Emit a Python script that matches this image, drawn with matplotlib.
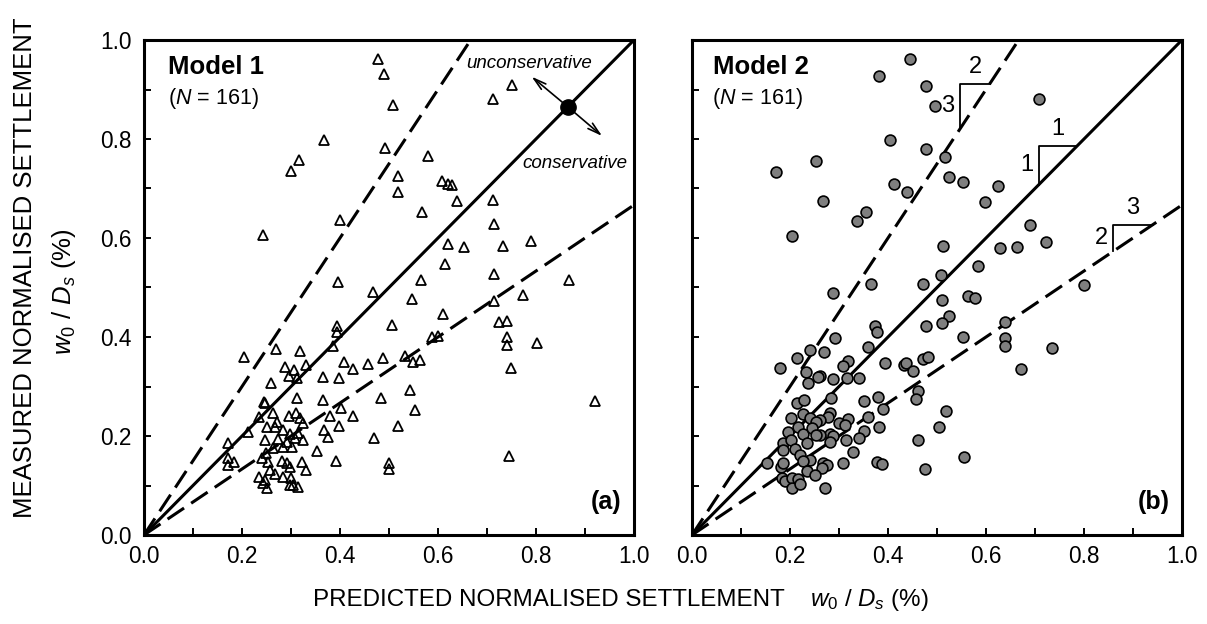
import matplotlib
matplotlib.use("Agg")
import matplotlib.pyplot as plt
from matplotlib.ticker import MultipleLocator

plt.rcParams['font.family'] = ['Liberation Sans', 'DejaVu Sans']
plt.rcParams['mathtext.fontset'] = 'custom'
plt.rcParams['mathtext.rm'] = 'Liberation Sans'
plt.rcParams['mathtext.it'] = 'Liberation Sans:italic'
plt.rcParams['mathtext.bf'] = 'Liberation Sans:bold'

# Model 1: predicted vs measured normalised settlement w0/Ds (%)
pred_m1 = [0.367, 0.317, 0.299, 0.399, 0.242, 0.395, 0.478, 0.490, 0.509, 0.752,
           0.713, 0.492, 0.579, 0.519, 0.518, 0.609, 0.621, 0.628, 0.639, 0.567,
           0.713, 0.714, 0.621, 0.654, 0.732, 0.790, 0.614, 0.715, 0.565, 0.867,
           0.467, 0.546, 0.773, 0.715, 0.611, 0.507, 0.724, 0.740, 0.740, 0.740,
           0.803, 0.587, 0.601, 0.427, 0.458, 0.488, 0.533, 0.548, 0.563, 0.749,
           0.543, 0.484, 0.426, 0.553, 0.519, 0.469, 0.500, 0.500, 0.744, 0.920,
           0.205, 0.393, 0.393, 0.385, 0.269, 0.318, 0.408, 0.288, 0.307, 0.330,
           0.295, 0.313, 0.365, 0.397, 0.260, 0.313, 0.365, 0.244, 0.247, 0.264,
           0.235, 0.295, 0.310, 0.318, 0.380, 0.402, 0.272, 0.325, 0.250, 0.267,
           0.284, 0.213, 0.298, 0.315, 0.308, 0.368, 0.397, 0.375, 0.247, 0.273,
           0.291, 0.324, 0.171, 0.264, 0.284, 0.303, 0.354, 0.248, 0.171, 0.184,
           0.172, 0.241, 0.254, 0.281, 0.291, 0.298, 0.322, 0.330, 0.392, 0.257,
           0.267, 0.235, 0.247, 0.283, 0.301, 0.305, 0.315, 0.242, 0.250, 0.298]
meas_m1 = [0.798, 0.758, 0.735, 0.636, 0.607, 0.512, 0.962, 0.931, 0.869, 0.909,
           0.881, 0.782, 0.766, 0.725, 0.693, 0.715, 0.710, 0.707, 0.675, 0.653,
           0.677, 0.628, 0.587, 0.581, 0.584, 0.594, 0.547, 0.528, 0.515, 0.515,
           0.490, 0.476, 0.485, 0.473, 0.446, 0.424, 0.430, 0.432, 0.399, 0.384,
           0.387, 0.399, 0.402, 0.335, 0.345, 0.357, 0.362, 0.350, 0.354, 0.338,
           0.293, 0.276, 0.241, 0.253, 0.221, 0.195, 0.145, 0.133, 0.160, 0.270,
           0.359, 0.423, 0.411, 0.382, 0.375, 0.372, 0.350, 0.340, 0.333, 0.343,
           0.321, 0.318, 0.320, 0.318, 0.308, 0.277, 0.273, 0.269, 0.266, 0.246,
           0.239, 0.240, 0.247, 0.237, 0.241, 0.257, 0.229, 0.226, 0.219, 0.219,
           0.212, 0.209, 0.205, 0.207, 0.195, 0.212, 0.220, 0.197, 0.192, 0.194,
           0.188, 0.192, 0.185, 0.175, 0.178, 0.178, 0.170, 0.165, 0.155, 0.148,
           0.141, 0.155, 0.148, 0.149, 0.145, 0.137, 0.148, 0.131, 0.150, 0.131,
           0.123, 0.117, 0.112, 0.118, 0.115, 0.101, 0.096, 0.106, 0.094, 0.101]

# Model 2: predicted vs measured normalised settlement w0/Ds (%)
pred_m2 = [0.171, 0.254, 0.268, 0.205, 0.445, 0.382, 0.478, 0.495, 0.709, 0.405,
           0.477, 0.516, 0.525, 0.554, 0.624, 0.412, 0.438, 0.598, 0.355, 0.337,
           0.690, 0.513, 0.629, 0.663, 0.722, 0.584, 0.508, 0.365, 0.472, 0.287,
           0.510, 0.563, 0.578, 0.524, 0.511, 0.639, 0.373, 0.378, 0.477, 0.554,
           0.639, 0.639, 0.735, 0.292, 0.359, 0.269, 0.671, 0.319, 0.309, 0.393,
           0.433, 0.436, 0.452, 0.472, 0.482, 0.261, 0.288, 0.317, 0.341, 0.283,
           0.352, 0.380, 0.390, 0.461, 0.457, 0.282, 0.278, 0.318, 0.360, 0.261,
           0.301, 0.312, 0.518, 0.381, 0.504, 0.350, 0.282, 0.288, 0.282, 0.261,
           0.341, 0.314, 0.462, 0.329, 0.268, 0.275, 0.265, 0.308, 0.377, 0.387,
           0.556, 0.476, 0.271, 0.180, 0.215, 0.241, 0.233, 0.236, 0.257, 0.214,
           0.229, 0.203, 0.227, 0.241, 0.254, 0.195, 0.217, 0.226, 0.244, 0.254,
           0.185, 0.203, 0.234, 0.210, 0.220, 0.186, 0.241, 0.226, 0.154, 0.182,
           0.186, 0.234, 0.251, 0.183, 0.190, 0.205, 0.217, 0.205, 0.220, 0.800]
meas_m2 = [0.734, 0.756, 0.675, 0.605, 0.961, 0.928, 0.908, 0.867, 0.880, 0.797,
           0.780, 0.763, 0.723, 0.713, 0.705, 0.709, 0.692, 0.673, 0.652, 0.634,
           0.626, 0.584, 0.579, 0.582, 0.591, 0.544, 0.525, 0.508, 0.508, 0.488,
           0.475, 0.483, 0.478, 0.443, 0.428, 0.431, 0.422, 0.410, 0.422, 0.401,
           0.397, 0.382, 0.378, 0.397, 0.380, 0.370, 0.335, 0.352, 0.342, 0.348,
           0.343, 0.348, 0.332, 0.355, 0.359, 0.321, 0.315, 0.318, 0.317, 0.276,
           0.271, 0.278, 0.255, 0.291, 0.274, 0.246, 0.238, 0.234, 0.239, 0.232,
           0.227, 0.222, 0.251, 0.218, 0.219, 0.211, 0.205, 0.199, 0.188, 0.202,
           0.195, 0.191, 0.192, 0.168, 0.146, 0.141, 0.135, 0.146, 0.148, 0.143,
           0.157, 0.133, 0.094, 0.338, 0.358, 0.374, 0.329, 0.308, 0.320, 0.266,
           0.273, 0.237, 0.244, 0.237, 0.229, 0.209, 0.219, 0.205, 0.216, 0.202,
           0.186, 0.191, 0.185, 0.174, 0.162, 0.172, 0.152, 0.150, 0.146, 0.138,
           0.145, 0.129, 0.121, 0.115, 0.110, 0.115, 0.113, 0.094, 0.104, 0.505]

# Reference lines through the origin: measured = slope * predicted
guide_slopes = [1.0, 1.5, 2.0 / 3.0]
guide_styles = ['solid', 'dashed', 'dashed']

tick_values = [0.0, 0.2, 0.4, 0.6, 0.8, 1.0]
tick_labels = ['0.0', '0.2', '0.4', '0.6', '0.8', '1.0']

panel_titles = ['Model 1', 'Model 2']
panel_tags = ['(a)', '(b)']
sample_note = r'($\it{N}$ = 161)'

W, H = 1207, 624
fig = plt.figure(figsize=(W / 100, H / 100), dpi=100)
ax1 = fig.add_axes([144 / W, 1 - 535 / H, 490 / W, 495 / H])
ax2 = fig.add_axes([692 / W, 1 - 535 / H, 490 / W, 495 / H])

LW = 2.2
for ax in (ax1, ax2):
    ax.set_xlim(0, 1)
    ax.set_ylim(0, 1)
    for sp in ax.spines.values():
        sp.set_linewidth(LW)
    ax.set_xticks(tick_values)
    ax.set_xticklabels(tick_labels)
    ax.set_yticks(tick_values)
    ax.set_yticklabels(tick_labels)
    ax.xaxis.set_minor_locator(MultipleLocator(0.1))
    ax.yaxis.set_minor_locator(MultipleLocator(0.1))
    ax.tick_params(which='both', direction='in', length=5, width=1.4,
                   top=False, right=False, labelsize=16.3)
    ax.tick_params(axis='x', which='major', pad=7)
    ax.tick_params(axis='y', which='major', pad=9)
    for s, ls in zip(guide_slopes, guide_styles):
        xe = min(1.0, 1.0 / s)
        line, = ax.plot([0, xe], [0, s * xe], color='black', lw=2.2,
                        solid_capstyle='butt', zorder=3)
        if ls == 'dashed':
            line.set_dashes([6.5, 2.8])

ax2.tick_params(axis='y', labelleft=False)

# Data points
ax1.plot(pred_m1, meas_m1, linestyle='none', marker='^', markersize=7.8,
         markerfacecolor='none', markeredgecolor='black', markeredgewidth=1.3,
         zorder=4)
ax2.plot(pred_m2, meas_m2, linestyle='none', marker='o', markersize=7.8,
         markerfacecolor='#7f7f7f', markeredgecolor='black', markeredgewidth=1.2,
         zorder=4)

# Panel titles and tags
for ax, title, tag, tx in ((ax1, panel_titles[0], panel_tags[0], 0.05),
                           (ax2, panel_titles[1], panel_tags[1], 0.043)):
    ax.text(tx, 0.931, title, fontsize=18.5, fontweight='bold', va='baseline',
            ha='left', zorder=6)
    ax.text(tx - 0.002, 0.871, sample_note, fontsize=15.5, va='baseline',
            ha='left', zorder=6)
    ax.text(0.975, 0.053, tag, fontsize=18, fontweight='bold', va='baseline',
            ha='right', zorder=6)

# Conservative / unconservative indicator on the 1:1 line
pt = 0.865
ax1.plot([pt], [pt], marker='o', markersize=11, color='black', zorder=6)
arrow_kw = dict(arrowstyle='->,head_length=0.9,head_width=0.25', color='black',
                lw=1.2, shrinkA=0, shrinkB=0)
ax1.annotate('', xy=(0.791, 0.926), xytext=(pt, pt), arrowprops=arrow_kw, zorder=6)
ax1.annotate('', xy=(0.935, 0.806), xytext=(pt, pt), arrowprops=arrow_kw, zorder=6)
ax1.text(0.657, 0.943, 'unconservative', fontsize=13.5, style='italic',
         va='baseline', ha='left', zorder=6)
ax1.text(0.773, 0.741, 'conservative', fontsize=13.5, style='italic',
         va='baseline', ha='left', zorder=6)

# Slope triangles on the guide lines of panel (b)
def slope_triangle(ax, x0, run, slope, rise_label, run_label):
    y0 = slope * x0
    x1 = x0 + run
    y1 = slope * x1
    ax.plot([x0, x0, x1], [y0, y1, y1], color='black', lw=1.3, zorder=5)
    ax.text((x0 + x1) / 2, y1 + 0.012, run_label, fontsize=17, ha='center',
            va='bottom', zorder=6)
    ax.text(x0 - 0.012, (y0 + y1) / 2, rise_label, fontsize=17, ha='right',
            va='center', zorder=6)

slope_triangle(ax2, 0.547, 0.061, 1.5, '3', '2')
slope_triangle(ax2, 0.708, 0.077, 1.0, '1', '1')
slope_triangle(ax2, 0.860, 0.080, 2.0 / 3.0, '2', '3')

# Axis titles shared by both panels
fig.text(313 / W, 0.038, 'PREDICTED NORMALISED SETTLEMENT', fontsize=17.4,
         ha='left', va='center')
fig.text(810 / W, 0.038, r'$w_0$ / $D_s$ (%)', fontsize=17.4,
         ha='left', va='center')
fig.text(0.021, 1 - 268 / H, 'MEASURED NORMALISED SETTLEMENT', fontsize=18.5,
         rotation=90, ha='center', va='center')
fig.text(0.053, 1 - 292 / H, r'$w_0$ / $D_s$ (%)', fontsize=18.5, rotation=90,
         ha='center', va='center')

fig.savefig('out.png', dpi=100)
